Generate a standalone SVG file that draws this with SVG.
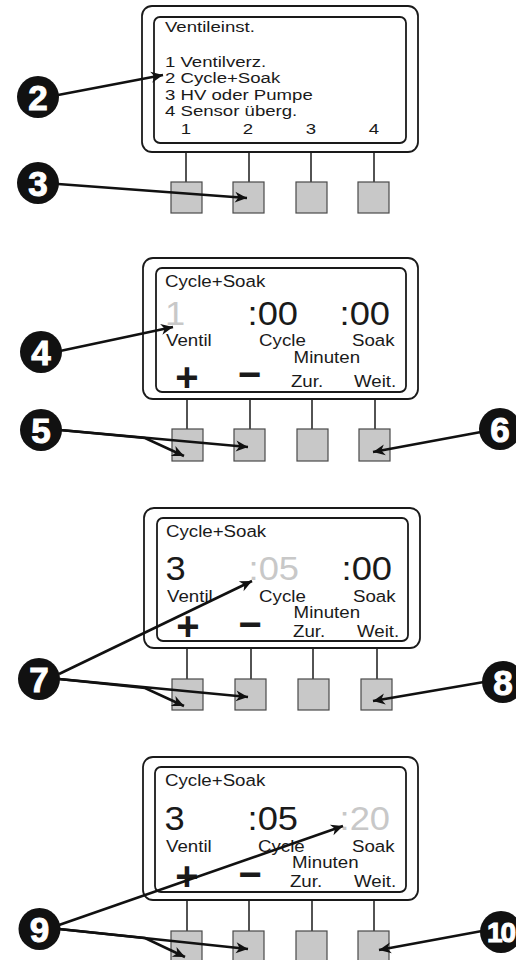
<svg xmlns="http://www.w3.org/2000/svg" width="516" height="960" viewBox="0 0 516 960">
<style>
.frame{fill:#fff;stroke:#1a1a1a;stroke-width:1.8}
.stem{stroke:#1a1a1a;stroke-width:1.5}
.btn{fill:#c8c8c8;stroke:#4a4a4a;stroke-width:1.2}
.t{font-family:"Liberation Sans",Arial,sans-serif;font-size:17px;fill:#1a1a1a}
.s{font-size:15.5px}
.m{text-anchor:middle}
.big{font-family:"Liberation Sans",Arial,sans-serif;font-size:33px;fill:#1a1a1a}
.hl{fill:#c8c8c8}
.sym{font-family:"Liberation Sans",Arial,sans-serif;font-size:40px;font-weight:bold;fill:#1a1a1a;text-anchor:middle}
.badge circle{fill:#111}
.badge text{font-family:"Liberation Sans",Arial,sans-serif;font-weight:bold;font-size:35px;fill:#fff;stroke:#fff;stroke-width:1;text-anchor:middle}
.arrow{fill:none;stroke:#111;stroke-width:2.6;marker-end:url(#ah)}
</style>
<defs>
<marker id="ah" markerUnits="userSpaceOnUse" viewBox="-14 -7 15 14" refX="0" refY="0" markerWidth="15" markerHeight="14" orient="auto">
<path d="M0,0 L-12,-5.5 L-8.5,0 L-12,5.5 Z" fill="#111"/>
</marker>
</defs>
<rect width="516" height="960" fill="#fff"/>

<g id="panel1">
<rect class="frame" x="142" y="6" width="276" height="146" rx="10"/>
<rect class="frame" x="154" y="17" width="252" height="126" rx="6"/>
<g transform="scale(1.2 1)">
<text class="t s" x="137.5" y="32">Ventileinst.</text>
<text class="t s" x="137.5" y="67">1 Ventilverz.</text>
<text class="t s" x="137.5" y="83.5">2 Cycle+Soak</text>
<text class="t s" x="137.5" y="100">3 HV oder Pumpe</text>
<text class="t s" x="137.5" y="116.5">4 Sensor überg.</text>
<text class="t s m" x="155" y="134">1</text>
<text class="t s m" x="206.7" y="134">2</text>
<text class="t s m" x="259.2" y="134">3</text>
<text class="t s m" x="311.7" y="134">4</text>
</g>
<line class="stem" x1="186" y1="152" x2="186" y2="182"/>
<line class="stem" x1="249" y1="152" x2="249" y2="182"/>
<line class="stem" x1="311" y1="152" x2="311" y2="182"/>
<line class="stem" x1="374" y1="152" x2="374" y2="182"/>
<rect class="btn" x="171" y="182" width="31" height="31"/>
<rect class="btn" x="233" y="182" width="31" height="31"/>
<rect class="btn" x="296" y="182" width="31" height="31"/>
<rect class="btn" x="358" y="182" width="31" height="31"/>
</g>

<g id="panel2">
<rect class="frame" x="143" y="258" width="275" height="141" rx="10"/>
<rect class="frame" x="156" y="268" width="250" height="124" rx="6"/>
<g transform="scale(1.1 1)">
<text class="t" x="150" y="287">Cycle+Soak</text>
<text class="big hl" x="150" y="325">1</text>
<text class="big" x="225.1" y="325">:00</text>
<text class="big" x="308.7" y="325">:00</text>
<text class="t" x="150.9" y="346">Ventil</text>
<text class="t" x="235.5" y="346">Cycle</text>
<text class="t" x="320" y="346">Soak</text>
<text class="t" x="266.9" y="363">Minuten</text>
<text class="t" x="264.5" y="387">Zur.</text>
<text class="t" x="321.8" y="387">Weit.</text>
</g>
<text class="sym" x="187" y="391">+</text>
<text class="sym" x="249.5" y="388">−</text>
<line class="stem" x1="187" y1="399" x2="187" y2="429"/>
<line class="stem" x1="250" y1="399" x2="250" y2="429"/>
<line class="stem" x1="312" y1="399" x2="312" y2="429"/>
<line class="stem" x1="375" y1="399" x2="375" y2="429"/>
<rect class="btn" x="172" y="429" width="31" height="32"/>
<rect class="btn" x="234" y="429" width="31" height="32"/>
<rect class="btn" x="297" y="429" width="31" height="32"/>
<rect class="btn" x="359" y="429" width="31" height="32"/>
</g>

<g id="panel3">
<rect class="frame" x="144" y="508" width="276" height="140" rx="10"/>
<rect class="frame" x="157" y="518" width="251" height="123" rx="6"/>
<g transform="scale(1.1 1)">
<text class="t" x="150.9" y="537">Cycle+Soak</text>
<text class="big" x="150.4" y="580">3</text>
<text class="big hl" x="226" y="580">:05</text>
<text class="big" x="310.5" y="580">:00</text>
<text class="t" x="151.8" y="602">Ventil</text>
<text class="t" x="235.5" y="602">Cycle</text>
<text class="t" x="320.9" y="602">Soak</text>
<text class="t" x="266.9" y="618">Minuten</text>
<text class="t" x="266.4" y="637">Zur.</text>
<text class="t" x="324.5" y="637">Weit.</text>
</g>
<text class="sym" x="188" y="640">+</text>
<text class="sym" x="250" y="638">−</text>
<line class="stem" x1="187" y1="648" x2="187" y2="679"/>
<line class="stem" x1="251" y1="648" x2="251" y2="679"/>
<line class="stem" x1="313" y1="648" x2="313" y2="679"/>
<line class="stem" x1="377" y1="648" x2="377" y2="679"/>
<rect class="btn" x="172" y="679" width="31" height="31"/>
<rect class="btn" x="235" y="679" width="31" height="31"/>
<rect class="btn" x="298" y="679" width="31" height="31"/>
<rect class="btn" x="361" y="679" width="31" height="31"/>
</g>

<g id="panel4">
<rect class="frame" x="143" y="757" width="275" height="143" rx="10"/>
<rect class="frame" x="155" y="767" width="251" height="125" rx="6"/>
<g transform="scale(1.1 1)">
<text class="t" x="150" y="786">Cycle+Soak</text>
<text class="big" x="149.5" y="830">3</text>
<text class="big" x="225.1" y="830">:05</text>
<text class="big hl" x="308.7" y="830">:20</text>
<text class="t" x="150.9" y="852">Ventil</text>
<text class="t" x="234.5" y="852">Cycle</text>
<text class="t" x="320" y="852">Soak</text>
<text class="t" x="265.5" y="868">Minuten</text>
<text class="t" x="263.6" y="887">Zur.</text>
<text class="t" x="321.8" y="887">Weit.</text>
</g>
<text class="sym" x="187" y="890">+</text>
<text class="sym" x="250" y="888">−</text>
<line class="stem" x1="187" y1="900" x2="187" y2="931"/>
<line class="stem" x1="249" y1="900" x2="249" y2="931"/>
<line class="stem" x1="312" y1="900" x2="312" y2="931"/>
<line class="stem" x1="374" y1="900" x2="374" y2="931"/>
<rect class="btn" x="171" y="931" width="31" height="31"/>
<rect class="btn" x="233" y="931" width="31" height="31"/>
<rect class="btn" x="296" y="931" width="31" height="31"/>
<rect class="btn" x="358" y="931" width="31" height="31"/>
</g>

<g id="connectors">
<path class="arrow" d="M58,95 L163,75"/>
<path class="arrow" d="M58,184 L247,198"/>
<path class="arrow" d="M60,351 L173,327"/>
<path class="arrow" d="M60,430 L248,447"/>
<path class="arrow" d="M60,430 L145,438 L184,456"/>
<path class="arrow" d="M481,432 L373,452"/>
<path class="arrow" d="M59,674 L252,581"/>
<path class="arrow" d="M59,679 L248,697"/>
<path class="arrow" d="M59,679 L145,688 L184,706"/>
<path class="arrow" d="M484,682 L373,701"/>
<path class="arrow" d="M59,925 L343,826"/>
<path class="arrow" d="M59,929 L248,949"/>
<path class="arrow" d="M59,929 L145,938 L185,957"/>
<path class="arrow" d="M482,931 L379,950"/>
</g>

<g id="badge2" class="badge"><circle cx="38" cy="97" r="21"/><text x="38" y="109.5">2</text></g>
<g id="badge3" class="badge"><circle cx="38" cy="183" r="21"/><text x="38" y="195.5">3</text></g>
<g id="badge4" class="badge"><circle cx="41" cy="352" r="21"/><text x="41" y="364.5">4</text></g>
<g id="badge5" class="badge"><circle cx="41" cy="430" r="21"/><text x="41" y="442.5">5</text></g>
<g id="badge6" class="badge"><circle cx="500" cy="429" r="21"/><text x="500" y="441.5">6</text></g>
<g id="badge7" class="badge"><circle cx="39" cy="679" r="21"/><text x="39" y="691.5">7</text></g>
<g id="badge8" class="badge"><circle cx="503" cy="682" r="21"/><text x="503" y="694.5">8</text></g>
<g id="badge9" class="badge"><circle cx="39.5" cy="929" r="21"/><text x="39.5" y="941.5">9</text></g>
<g id="badge10" class="badge"><circle cx="501" cy="932" r="21"/><text x="500.5" y="942" style="font-size:28px;letter-spacing:-2px">10</text></g>
</svg>
